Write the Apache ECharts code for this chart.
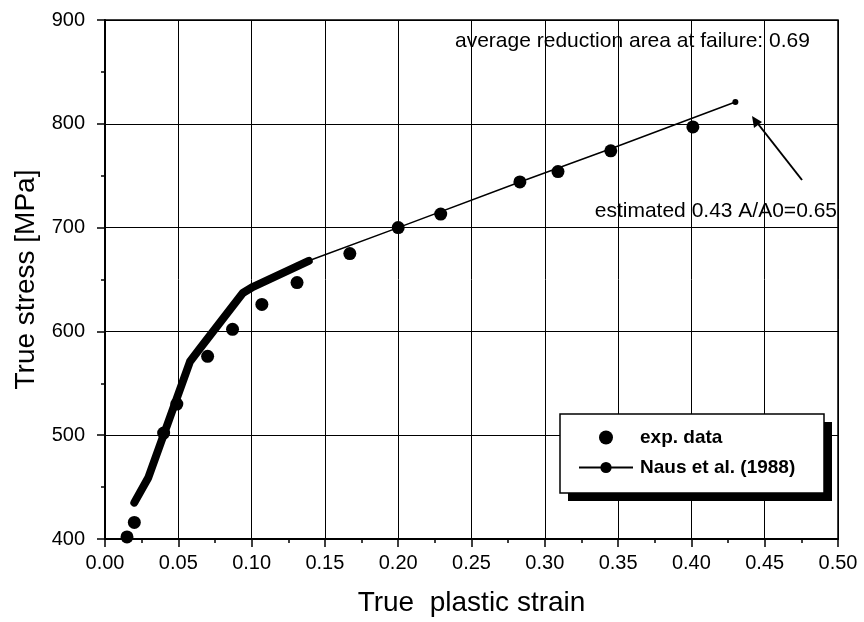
<!DOCTYPE html>
<html>
<head>
<meta charset="utf-8">
<script src="https://cdn.jsdelivr.net/npm/echarts@6/dist/echarts.min.js"></script>
<style>
  html, body { margin: 0; padding: 0; background: #fff; }
  #chart { width: 864px; height: 622px; }
</style>
</head>
<body>
<div id="chart"></div>
<script>
// experimental points [strain, stress]
const expData = [
  [0.015, 402], [0.020, 416], [0.040, 502], [0.049, 530], [0.070, 576],
  [0.087, 602], [0.107, 626], [0.131, 647], [0.167, 675], [0.200, 700],
  [0.229, 713], [0.283, 744], [0.309, 754], [0.345, 774], [0.401, 797]
];
// Naus et al. (1988) model, thick part
const nausThick = [
  [0.020, 435], [0.0295, 459], [0.058, 571], [0.065, 584],
  [0.094, 637], [0.101, 643], [0.139, 668]
];
// Naus et al. (1988) model, thin extrapolation
const nausThin = [[0.139, 668], [0.200, 700], [0.283, 744], [0.345, 776], [0.430, 821]];

const font = "'Liberation Sans', Arial, sans-serif";

const chart = echarts.init(document.getElementById("chart"));

const option = {
  backgroundColor: "#fff",
  animation: false,
  grid: { left: 105, right: 26, top: 20, bottom: 82, show: true, borderColor: "#000", borderWidth: 1.5 },
  legend: {
    data: [
      { name: "exp. data", icon: "circle", itemStyle: { opacity: 1 } },
      { name: "Naus et al. (1988)" }
    ],
    orient: "vertical",
    left: 578, top: 428,
    padding: 0,
    itemGap: 11,
    itemWidth: 54, itemHeight: 14,
    z: 10,
    textStyle: { fontFamily: font, fontWeight: "bold", fontSize: 19, color: "#000", padding: [0, 0, 0, 2] }
  },
  xAxis: {
    type: "value", min: 0, max: 0.5, interval: 0.05,
    name: "True  plastic strain", nameLocation: "middle", nameGap: 50,
    nameTextStyle: { fontFamily: font, fontSize: 28, color: "#000" },
    axisLine: { onZero: false, lineStyle: { color: "#000", width: 2 } },
    axisTick: { length: 8, lineStyle: { color: "#000", width: 1.5 } },
    minorTick: { show: true, splitNumber: 2, length: 4, lineStyle: { color: "#000", width: 1.5 } },
    axisLabel: { fontFamily: font, fontSize: 20, color: "#000", margin: 14, formatter: v => v.toFixed(2) },
    splitLine: { show: true, lineStyle: { color: "#000", width: 1 } }
  },
  yAxis: {
    type: "value", min: 400, max: 900, interval: 100,
    name: "True stress [MPa]", nameLocation: "middle", nameGap: 64,
    nameTextStyle: { fontFamily: font, fontSize: 28, color: "#000" },
    axisLine: { onZero: false, lineStyle: { color: "#000", width: 2 } },
    axisTick: { length: 8, lineStyle: { color: "#000", width: 1.5 } },
    minorTick: { show: true, splitNumber: 2, length: 4, lineStyle: { color: "#000", width: 1.5 } },
    axisLabel: { fontFamily: font, fontSize: 20, color: "#000", margin: 20 },
    splitLine: { show: true, lineStyle: { color: "#000", width: 1 } }
  },
  series: [
    {
      name: "Naus thick", type: "line", data: nausThick,
      symbol: "none", lineStyle: { color: "#000", width: 8, cap: "round", join: "round" },
      z: 3
    },
    {
      name: "Naus et al. (1988)", type: "line",
      data: nausThin.map((p, i) => i === nausThin.length - 1 ? p : { value: p, symbol: "none" }),
      symbol: "circle", symbolSize: 6,
      itemStyle: { color: "#000" },
      lineStyle: { color: "#000", width: 1.5 },
      z: 3
    },
    {
      name: "exp. data", type: "scatter", data: expData,
      symbol: "circle", symbolSize: 13,
      itemStyle: { color: "#000", opacity: 1 },
      z: 4
    }
  ],
  graphic: [
    {
      type: "text", left: 455, top: 31,
      style: { text: "average reduction area at failure: 0.69", font: "21px " + font, fill: "#000" }
    },
    {
      type: "text", right: 27, top: 201,
      style: { text: "estimated 0.43 A/A0=0.65", font: "21px " + font, fill: "#000" }
    },
    {
      type: "line",
      shape: { x1: 802, y1: 180, x2: 755, y2: 120 },
      style: { stroke: "#000", lineWidth: 2 }
    },
    {
      type: "polygon",
      shape: { points: [[752, 116], [754, 128], [762, 122]] },
      style: { fill: "#000" }
    },
    // legend frame with its offset shadow
    {
      type: "rect", z: 5,
      shape: { x: 568, y: 422, width: 264, height: 79 },
      style: { fill: "#000" }
    },
    {
      type: "rect", z: 6,
      shape: { x: 560, y: 414, width: 264, height: 79 },
      style: { fill: "#fff", stroke: "#000", lineWidth: 1.5 }
    }
  ]
};

chart.setOption(option);
</script>
</body>
</html>
